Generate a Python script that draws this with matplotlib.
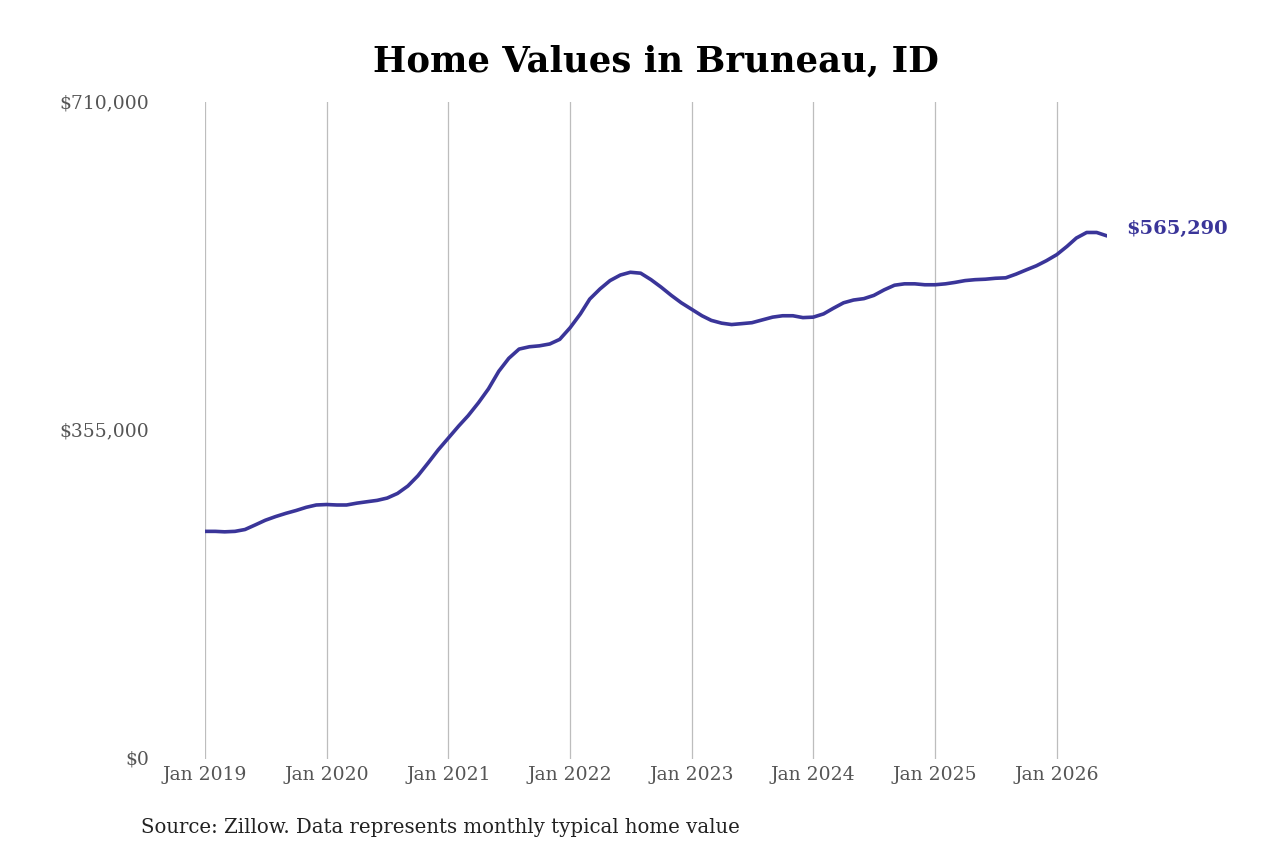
import numpy as np
import pandas as pd
import matplotlib
matplotlib.use("Agg")
from matplotlib import pyplot as plt

# monthly typical home value, Jan 2019 .. Jun 2026
months = pd.date_range("2019-01-01", "2026-06-01", freq="MS")
values = [
    246000, 246000, 245500, 246000, 248000, 253000, 258000, 262000, 265500, 268500, 272000, 274500,
    275000, 274500, 274500, 276500, 278000, 279500, 282000, 287000, 295000, 306000, 320000, 334000,
    347000, 360000, 371000, 385000, 400000, 419000, 433000, 443000, 445500, 446500, 448500, 453500,
    466000, 481000, 497000, 508000, 517000, 523000, 526000, 525000, 518000, 510000, 501000, 493000,
    486000, 479000, 474000, 471000, 469500, 470500, 471500, 474500, 477500, 479000, 479000, 477000,
    477500, 481000, 487000, 493000, 496000, 497500, 501000, 507000, 512000, 513500, 513500, 512500,
    512500, 513500, 515000, 517000, 518000, 518500, 519500, 520000, 524000, 528500, 533000, 538500,
    545000, 554000, 563000, 569000, 569000, 565290,
]
yticks = [0, 355000, 710000]
ytick_labels = ["$0", "$355,000", "$710,000"]
xtick_years = list(range(2019, 2027))

line_color = "#3a3599"
grid_color = "#bdbdbd"

plt.rcParams["font.family"] = ["DejaVu Serif"]

fig = plt.figure(figsize=(12.8, 8.53), dpi=100)
ax = fig.add_axes([205 / 1280, 93 / 853, 902 / 1280, 657 / 853])

ax.plot(months, values, color=line_color, lw=2.6, solid_capstyle="round", zorder=3)

ax.set_xlim(months[0], months[-1])
ax.set_ylim(0, 710000)

xt = [pd.Timestamp(f"{y}-01-01") for y in xtick_years]
ax.set_xticks(xt)
ax.set_xticklabels([f"Jan {y}" for y in xtick_years])
ax.set_yticks(yticks)
ax.set_yticklabels(ytick_labels)

for t in xt:
    ax.axvline(t, color=grid_color, lw=0.9, zorder=1)

for s in ax.spines.values():
    s.set_visible(False)
ax.tick_params(axis="x", length=0, pad=4, labelsize=13.5, labelcolor="#555555")
ax.tick_params(axis="y", length=0, pad=40, labelsize=13.5, labelcolor="#555555")
for lbl in ax.get_yticklabels():
    lbl.set_horizontalalignment("right")
    lbl.set_verticalalignment("center")

ax.annotate(f"${values[-1]:,}", xy=(months[-1], values[-1]), xytext=(14, 6),
            textcoords="offset points", color=line_color, fontsize=14,
            fontweight="bold", va="center", ha="left", annotation_clip=False)

fig.text(656 / 1280, 1 - 62 / 853, "Home Values in Bruneau, ID", ha="center", va="center",
         fontsize=25.5, fontweight="bold", color="black")
fig.text(141 / 1280, 1 - 828 / 853, "Source: Zillow. Data represents monthly typical home value",
         ha="left", va="center", fontsize=14.2, color="#222222")

fig.savefig("out.png", dpi=100, facecolor="white")
